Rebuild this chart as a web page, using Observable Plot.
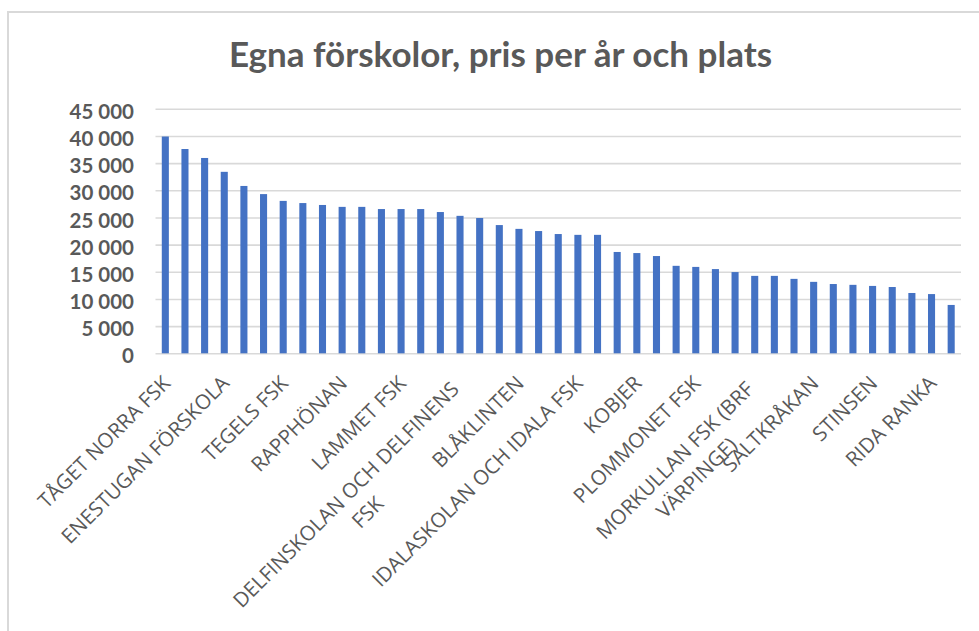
<!DOCTYPE html>
<html>
<head>
<meta charset="utf-8">
<script src="https://cdn.jsdelivr.net/npm/d3@7"></script>
<script src="https://cdn.jsdelivr.net/npm/@observablehq/plot@0.6"></script>
<style>
  body { margin: 0; background: #fff; }
  #wrap { position: relative; width: 979px; height: 631px; overflow: hidden; background: #fff; }
  #frame { position: absolute; left: 7px; top: 11px; width: 1100px; height: 800px;
           border-left: 2px solid #d9d9d9; border-top: 2px solid #d9d9d9; }
  #title { position: absolute; left: 0; width: 1001px; top: 32px; text-align: center;
           font-family: Lato, sans-serif; font-weight: bold; font-size: 35px; line-height: 42px;
           color: #595959; white-space: nowrap; }
  #chart { position: absolute; left: 0; top: 0; }
</style>
</head>
<body>
<div id="wrap">
  <div id="frame"></div>
  <div id="chart"></div>
  <div id="title">Egna förskolor, pris per år och plats</div>
</div>
<script>
// Category labels (only every third bar is labelled on the axis; unreadable names left empty)
const schools = [
  "TÅGET NORRA FSK", "", "",
  "ENESTUGAN FÖRSKOLA", "", "",
  "TEGELS FSK", "", "",
  "RAPPHÖNAN", "", "",
  "LAMMET FSK", "", "",
  "DELFINSKOLAN OCH DELFINENS\nFSK", "", "",
  "BLÅKLINTEN", "", "",
  "IDALASKOLAN OCH IDALA FSK", "", "",
  "KOBJER", "", "",
  "PLOMMONET FSK", "", "",
  "MORKULLAN FSK (BRF\nVÄRPINGE)", "", "",
  "SALTKRÅKAN", "", "",
  "STINSEN", "", "",
  "RIDA RANKA", ""
];
// Price per year and place (kr)
const prices = [
  39900, 37600, 35950, 33400, 30800, 29300, 28050, 27650, 27300, 26950,
  26950, 26550, 26550, 26550, 26000, 25300, 24900, 23600, 22900, 22500,
  21950, 21800, 21800, 18650, 18450, 17900, 16100, 15900, 15500, 14950,
  14250, 14250, 13700, 13150, 12750, 12600, 12400, 12200, 11100, 10900,
  8900
];
const yTicks = [0, 5000, 10000, 15000, 20000, 25000, 30000, 35000, 40000, 45000];

const data = prices.map((v, i) => ({i, value: v, label: schools[i]}));
const labeled = data.filter(d => d.label);
const fmt = d => d3.format(",")(d).replace(/,/g, " ");

const chart = Plot.plot({
  width: 979,
  height: 631,
  marginLeft: 155.5,
  marginRight: 18,
  marginTop: 108.8,
  marginBottom: 277.7,
  style: {background: "transparent", overflow: "visible"},
  x: {type: "band", domain: d3.range(prices.length), paddingInner: 0.64, paddingOuter: 0.32, round: false, axis: null},
  y: {domain: [0, 45000], axis: null, label: null},
  marks: [
    Plot.gridY(yTicks, {stroke: "#d9d9d9", strokeOpacity: 1, strokeWidth: 1.6}),
    Plot.barY(data, {x: "i", y: "value", fill: "#4472C4"}),
    Plot.axisY(yTicks, {
      label: null, tickSize: 0, tickPadding: 22, tickFormat: fmt, dy: 3,
      fontSize: 20.5, fontWeight: "bold", fontFamily: "Lato, sans-serif", fill: "#595959"
    }),
    Plot.text(labeled, {
      x: "i", text: "label", frameAnchor: "bottom",
      rotate: -45, textAnchor: "end", lineAnchor: "top",
      dx: -4.6, dy: 20.5,
      fontSize: 20.5, fontFamily: "'Open Sans', sans-serif", fill: "#595959"
    })
  ]
});
document.getElementById("chart").appendChild(chart);

// Excel-style wrapped labels: second line centred under the first
const fs = 20.5, lh = 1.35;
chart.querySelectorAll("text").forEach(t => {
  const spans = t.querySelectorAll("tspan");
  if (spans.length === 2) {
    const w1 = spans[0].getComputedTextLength();
    spans[0].setAttribute("x", -8.5);
    spans[0].setAttribute("y", 0.71 * fs);
    spans[0].removeAttribute("dy");
    spans[1].setAttribute("x", -8.5 - w1 / 2 + 3);
    spans[1].removeAttribute("dy");
    spans[1].setAttribute("y", (0.71 + lh) * fs);
    spans[1].setAttribute("text-anchor", "middle");
  }
});
</script>
</body>
</html>
